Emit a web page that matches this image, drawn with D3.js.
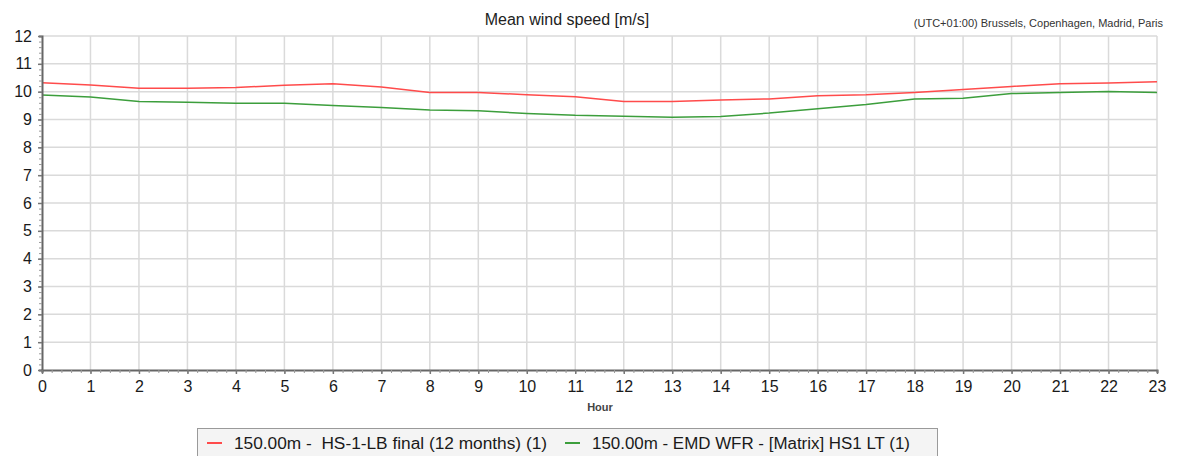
<!DOCTYPE html>
<html>
<head>
<meta charset="utf-8">
<script src="https://cdn.jsdelivr.net/npm/d3@7"></script>
<style>
  body { margin: 0; background: #fff; }
  svg { display: block; font-family: "Liberation Sans", Arial, sans-serif; }
</style>
</head>
<body>
<div id="wrapper"></div>
<script>
// data
const hours = d3.range(0, 24)
const redValues = [10.32, 10.24, 10.12, 10.12, 10.15, 10.23, 10.28, 10.17, 9.97, 9.97, 9.89, 9.82,
                   9.65, 9.65, 9.70, 9.74, 9.85, 9.89, 9.97, 10.08, 10.19, 10.28, 10.31, 10.36]
const greenValues = [9.88, 9.81, 9.65, 9.62, 9.58, 9.58, 9.50, 9.43, 9.34, 9.31, 9.22, 9.15,
                     9.12, 9.08, 9.11, 9.23, 9.39, 9.54, 9.74, 9.76, 9.93, 9.97, 10.01, 9.97]
const yTicks = d3.range(0, 13)
const seriesNames = ["150.00m -  HS-1-LB final (12 months) (1)", "150.00m - EMD WFR - [Matrix] HS1 LT (1)"]
const seriesColors = ["#ff4b4b", "#3c9e3c"]

const dimensions = {
  width: 1178, height: 456,
  margins: { top: 36, bottom: 86, left: 42, right: 21 }
}
dimensions.boundsWidth = dimensions.width - dimensions.margins.left - dimensions.margins.right
dimensions.boundsHeight = dimensions.height - dimensions.margins.top - dimensions.margins.bottom

const svg = d3.select("#wrapper").append("svg")
  .attr("width", dimensions.width)
  .attr("height", dimensions.height)

const bounds = svg.append("g")
  .attr("transform", `translate(${dimensions.margins.left},${dimensions.margins.top})`)

const xScale = d3.scaleLinear().domain([0, 23]).range([0, dimensions.boundsWidth])
const yScale = d3.scaleLinear().domain([0, 12]).range([dimensions.boundsHeight, 0])

// grid
bounds.append("g").selectAll("line").data(yTicks.slice(1)).join("line")
  .attr("x1", 0).attr("x2", dimensions.boundsWidth)
  .attr("y1", d => yScale(d)).attr("y2", d => yScale(d))
  .attr("stroke", "#dadada").attr("stroke-width", 1.5)
bounds.append("g").selectAll("line").data(hours.slice(1)).join("line")
  .attr("x1", d => xScale(d)).attr("x2", d => xScale(d))
  .attr("y1", 0).attr("y2", dimensions.boundsHeight)
  .attr("stroke", "#dadada").attr("stroke-width", 1.5)

// lines
const lineGen = values => d3.line()
  .x((d, i) => xScale(hours[i]))
  .y(d => yScale(d))(values)
;[redValues, greenValues].forEach((vals, i) => {
  bounds.append("path")
    .attr("d", lineGen(vals))
    .attr("fill", "none")
    .attr("stroke", seriesColors[i])
    .attr("stroke-width", 1.5)
})

// minor ticks
const xMinor = d3.range(0, 23 * 5 + 1).map(d => d / 5)
const yMinor = d3.range(0, 12 * 5 + 1).map(d => d / 5)
const yAxis = bounds.append("g")
  .call(d3.axisLeft(yScale).tickValues(yMinor).tickSize(3).tickFormat(""))
const xAxis = bounds.append("g")
  .attr("transform", `translate(0,${dimensions.boundsHeight})`)
  .call(d3.axisBottom(xScale).tickValues(xMinor).tickSize(3).tickFormat(""))
;[xAxis, yAxis].forEach(a => {
  a.selectAll("line").attr("stroke", "#999").attr("stroke-width", 1)
  a.select(".domain").attr("stroke", "#666").attr("stroke-width", 2)
})

// major ticks
const yMajor = bounds.append("g")
  .call(d3.axisLeft(yScale).tickValues(yTicks).tickSize(4).tickPadding(6).tickFormat(d3.format("d")))
const xMajor = bounds.append("g")
  .attr("transform", `translate(0,${dimensions.boundsHeight})`)
  .call(d3.axisBottom(xScale).tickValues(hours).tickSize(4).tickPadding(7).tickFormat(d3.format("d")))
;[xMajor, yMajor].forEach(a => {
  a.select(".domain").remove()
  a.selectAll("line").attr("stroke", "#777").attr("stroke-width", 1.5)
  a.selectAll("text").attr("fill", "#1a1a1a").style("font-size", "16px")
    .style("font-family", "'Liberation Sans', Arial, sans-serif")
})

// titles
svg.append("text")
  .attr("x", 567).attr("y", 25)
  .attr("text-anchor", "middle")
  .attr("fill", "#222").style("font-size", "16px")
  .text("Mean wind speed [m/s]")
svg.append("text")
  .attr("x", 1163).attr("y", 27)
  .attr("text-anchor", "end")
  .attr("fill", "#333").style("font-size", "11px")
  .text("(UTC+01:00) Brussels, Copenhagen, Madrid, Paris")
svg.append("text")
  .attr("x", 600).attr("y", 411)
  .attr("text-anchor", "middle")
  .attr("fill", "#444").style("font-size", "11px").style("font-weight", "bold")
  .text("Hour")

// legend
svg.append("rect")
  .attr("x", 197.5).attr("y", 428.5).attr("width", 740).attr("height", 40)
  .attr("fill", "#f4f4f4").attr("stroke", "#9a9a9a").attr("stroke-width", 1)
const legendX = [207, 565]
const legendW = [313, 318]
seriesNames.forEach((name, i) => {
  const g = svg.append("g").attr("transform", `translate(${legendX[i]},443)`)
  g.append("line").attr("x1", 0).attr("x2", 15).attr("y1", 0).attr("y2", 0)
    .attr("stroke", seriesColors[i]).attr("stroke-width", 2)
  g.append("text").attr("x", 27).attr("y", 6)
    .attr("fill", "#1a1a1a").style("font-size", "16px")
    .style("white-space", "pre")
    .style("font-family", "'Liberation Sans Narrow', 'Arial Narrow', 'Liberation Sans', sans-serif")
    .attr("textLength", legendW[i]).attr("lengthAdjust", "spacingAndGlyphs")
    .text(name)
})
</script>
</body>
</html>
